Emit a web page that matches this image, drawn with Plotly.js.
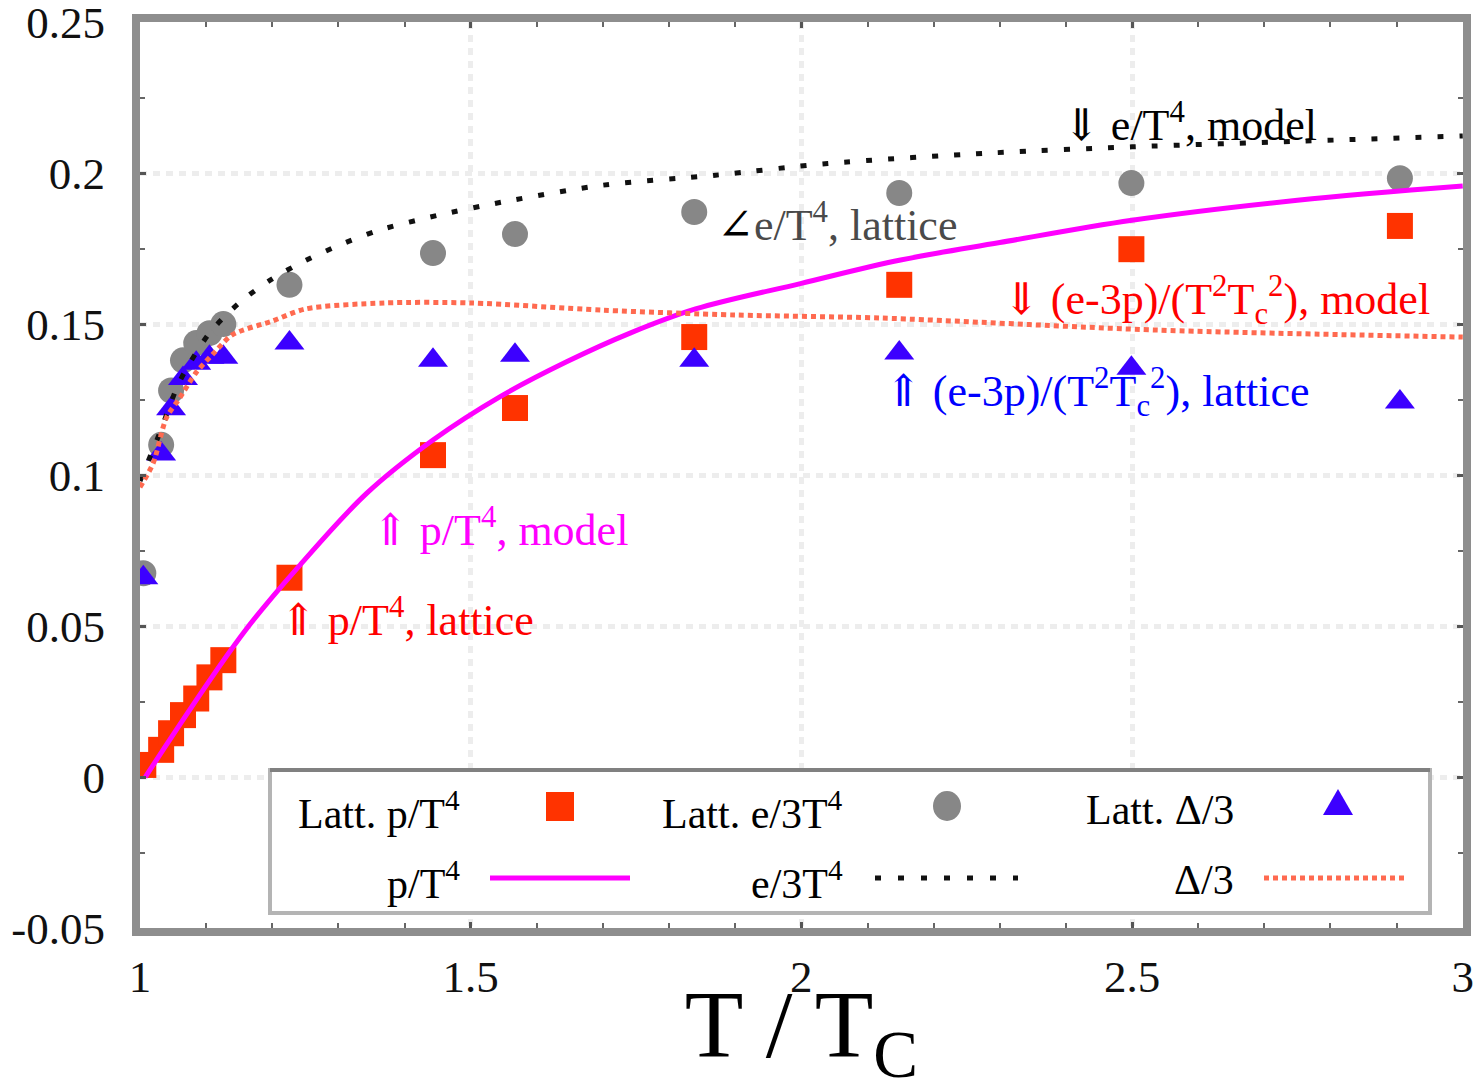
<!DOCTYPE html>
<html>
<head>
<meta charset="utf-8">
<script src="https://cdn.plot.ly/plotly-3.0.1.min.js"></script>
<style>html,body{margin:0;padding:0;background:#fff;}#chart{width:1474px;height:1092px;}</style>
</head>
<body>
<div id="chart"></div>
<script>
// ---- lattice data (T/Tc) ----
const lattT   = [1.005, 1.032, 1.047, 1.065, 1.085, 1.105, 1.126, 1.226, 1.443, 1.567, 1.838, 2.148, 2.499, 2.905];
const pLatt   = [0.004, 0.009, 0.0145, 0.0205, 0.026, 0.033, 0.0387, 0.066, 0.1066, 0.1222, 0.1457, 0.163, 0.1748, 0.1825];
const eLatt   = [0.0675, 0.110, 0.128, 0.138, 0.1437, 0.147, 0.150, 0.163, 0.1735, 0.1798, 0.1871, 0.1934, 0.1967, 0.1983];
const dLatt   = [0.066, 0.107, 0.122, 0.132, 0.137, 0.139, 0.139, 0.1437, 0.138, 0.1397, 0.138, 0.1404, 0.1354, 0.1242];

// ---- model curves ----
const pModelT = [1.008, 1.156, 1.242, 1.343, 1.443, 1.544, 1.645, 1.741, 1.84, 2.0, 2.15, 2.3, 2.5, 2.75, 3.0];
const pModel  = [0.0, 0.0476, 0.0702, 0.094, 0.1116, 0.1259, 0.1375, 0.147, 0.155, 0.1635, 0.1712, 0.177, 0.1844, 0.191, 0.1957];
const eModelT = [1.0, 1.015, 1.03, 1.06, 1.105, 1.15, 1.2, 1.25, 1.3, 1.36, 1.45, 1.55, 1.7, 1.87, 2.04, 2.29, 2.5, 2.76, 3.0];
const eModel  = [0.098, 0.106, 0.114, 0.131, 0.147, 0.157, 0.165, 0.171, 0.176, 0.181, 0.186, 0.1905, 0.196, 0.1993, 0.2032, 0.2067, 0.2087, 0.2106, 0.2123];
const dModelT = [1.0, 1.02, 1.04, 1.06, 1.085, 1.11, 1.14, 1.2, 1.25, 1.37, 1.5, 1.7, 1.9, 2.12, 2.54, 3.0];
const dModel  = [0.096, 0.104, 0.119, 0.1255, 0.134, 0.140, 0.1465, 0.151, 0.155, 0.157, 0.157, 0.1546, 0.153, 0.152, 0.148, 0.1457];

// ---- ticks ----
const xTicks = [1, 1.5, 2, 2.5, 3];
const xTickText = ['1', '1.5', '2', '2.5', '3'];
const yTicks = [-0.05, 0, 0.05, 0.1, 0.15, 0.2, 0.25];
const yTickText = ['-0.05', '0', '0.05', '0.1', '0.15', '0.2', '0.25'];

// ---- legend labels ----
const legLatt = ['Latt. p/T<sup>4</sup>', 'Latt. e/3T<sup>4</sup>', 'Latt. Δ/3'];
const legModel = ['p/T<sup>4</sup>', 'e/3T<sup>4</sup>', 'Δ/3'];

const SERIF = '"Liberation Serif", "Times New Roman", "DejaVu Serif", serif';
const cRed = '#ff3300', cGray = '#878787', cBlue = '#3c00ff', cMag = '#ff00ff', cDelta = '#ff6a50';

const traces = [
  {x: lattT, y: pLatt, mode: 'markers', type: 'scatter', name: 'Latt. p/T4',
   marker: {symbol: 'square', size: 26, color: cRed}},
  {x: lattT, y: eLatt, mode: 'markers', type: 'scatter', name: 'Latt. e/3T4',
   marker: {symbol: 'circle', size: 26, color: cGray}},
  {x: lattT, y: dLatt, mode: 'markers', type: 'scatter', name: 'Latt. Δ/3',
   marker: {symbol: 'triangle-up', size: 26, color: cBlue}},
  {x: pModelT, y: pModel, mode: 'lines', type: 'scatter', name: 'p/T4',
   line: {color: cMag, width: 5, shape: 'spline', smoothing: 1}},
  {x: eModelT, y: eModel, mode: 'lines', type: 'scatter', name: 'e/3T4',
   line: {color: '#111', width: 5, dash: '6px,16px', shape: 'spline', smoothing: 0.8}},
  {x: dModelT, y: dModel, mode: 'lines', type: 'scatter', name: 'Δ/3',
   line: {color: cDelta, width: 5, dash: '5px,4px', shape: 'spline', smoothing: 0.8}}
];

// paper-coordinate helpers for legend box (plot area: l=140,w=1323,t=22,h=906)
const L = 140, W = 1323, T = 22, H = 906;
const px = v => (v - L) / W;
const py = v => (T + H - v) / H;

const rowY = [806, 878];
const textRight = [462, 845, 1236];
const shapes = [
  {type: 'rect', xref: 'paper', yref: 'paper', x0: px(270), x1: px(1430), y0: py(913), y1: py(770),
   line: {color: '#b4b4b4', width: 4}, fillcolor: 'rgba(255,255,255,1)'},
  {type: 'line', xref: 'paper', yref: 'paper', x0: px(270), x1: px(1430), y0: py(770), y1: py(770),
   line: {color: '#808080', width: 4}},
  // lattice symbols
  {type: 'rect', xref: 'paper', yref: 'paper', x0: px(546), x1: px(574), y0: py(821), y1: py(792),
   line: {width: 0}, fillcolor: cRed},
  {type: 'circle', xref: 'paper', yref: 'paper', x0: px(933), x1: px(961), y0: py(821), y1: py(791),
   line: {width: 0}, fillcolor: cGray},
  {type: 'path', xref: 'paper', yref: 'paper',
   path: `M ${px(1323)} ${py(815)} L ${px(1353)} ${py(815)} L ${px(1338)} ${py(789)} Z`,
   line: {width: 0}, fillcolor: cBlue},
  // model lines
  {type: 'line', xref: 'paper', yref: 'paper', x0: px(490), x1: px(630), y0: py(878), y1: py(878),
   line: {color: cMag, width: 5}},
  {type: 'line', xref: 'paper', yref: 'paper', x0: px(875), x1: px(1018), y0: py(878), y1: py(878),
   line: {color: '#111', width: 5, dash: '6px,17px'}},
  {type: 'line', xref: 'paper', yref: 'paper', x0: px(1264), x1: px(1408), y0: py(878), y1: py(878),
   line: {color: cDelta, width: 5, dash: '5px,4px'}}
];

const annotations = [];
for (let i = 0; i < 3; i++) {
  annotations.push({xref: 'paper', yref: 'paper', x: px(textRight[i]), y: py(rowY[0] + 4), text: legLatt[i],
    showarrow: false, xanchor: 'right', yanchor: 'middle', font: {family: SERIF, size: 42, color: '#000'}});
  annotations.push({xref: 'paper', yref: 'paper', x: px(textRight[i]), y: py(rowY[1] + 2), text: legModel[i],
    showarrow: false, xanchor: 'right', yanchor: 'middle', font: {family: SERIF, size: 42, color: '#000'}});
}
const notes = [
  {x: 2.392, y: 0.2169, text: '⇓ e/T<sup>4</sup>, model', color: '#000'},
  {x: 1.870, y: 0.1838, text: '∠<span style="color:#4a4a4a">e/T<sup>4</sup>, lattice</span>', color: '#000'},
  {x: 2.302, y: 0.1580, text: '⇓ (e-3p)/(T<sup>2</sup>T<sub>c</sub><sup>2</sup>), model', color: '#ff0000'},
  {x: 2.124, y: 0.1275, text: '⇑ (e-3p)/(T<sup>2</sup>T<sub>c</sub><sup>2</sup>), lattice', color: '#0000ff'},
  {x: 1.348, y: 0.0825, text: '⇑ p/T<sup>4</sup>, model', color: '#ff00ff'},
  {x: 1.208, y: 0.0527, text: '⇑ p/T<sup>4</sup>, lattice', color: '#ff0000'}
];
notes.forEach(n => annotations.push({xref: 'x', yref: 'y', x: n.x, y: n.y, text: n.text, showarrow: false,
  xanchor: 'left', yanchor: 'middle', font: {family: SERIF, size: 44, color: n.color}}));

const axisCommon = {
  showline: true, linecolor: '#8e8e8e', linewidth: 8, mirror: 'allticks',
  ticks: 'inside', ticklen: 6, tickwidth: 3, tickcolor: '#555',
  showgrid: true, gridcolor: '#ededed', gridwidth: 5, griddash: '7px,6px',
  zeroline: false, ticklabeloverflow: 'allow',
  tickfont: {family: SERIF, size: 45, color: '#111'}
};

const layout = {
  width: 1474, height: 1092,
  margin: {l: L, r: 1474 - L - W, t: T, b: 1092 - T - H, pad: 0},
  paper_bgcolor: '#fff', plot_bgcolor: '#fff',
  showlegend: false,
  xaxis: Object.assign({}, axisCommon, {
    range: [1, 3.0004], tickmode: 'array', tickvals: xTicks, ticktext: xTickText,
    ticklabelstandoff: 2,
    minor: {dtick: 0.1, ticks: 'inside', ticklen: 5, tickwidth: 2, tickcolor: '#666', showgrid: false},
    title: {text: 'T / T<sub>C</sub>', font: {family: SERIF, size: 96, color: '#000'}, standoff: 36}
  }),
  yaxis: Object.assign({}, axisCommon, {
    range: [-0.05, 0.25004], tickmode: 'array', tickvals: yTicks, ticktext: yTickText,
    ticklabelstandoff: 18,
    minor: {dtick: 0.025, ticks: 'inside', ticklen: 5, tickwidth: 2, tickcolor: '#666', showgrid: false}
  }),
  shapes: shapes,
  annotations: annotations
};

Plotly.newPlot('chart', traces, layout, {displayModeBar: false, staticPlot: true});
</script>
</body>
</html>
